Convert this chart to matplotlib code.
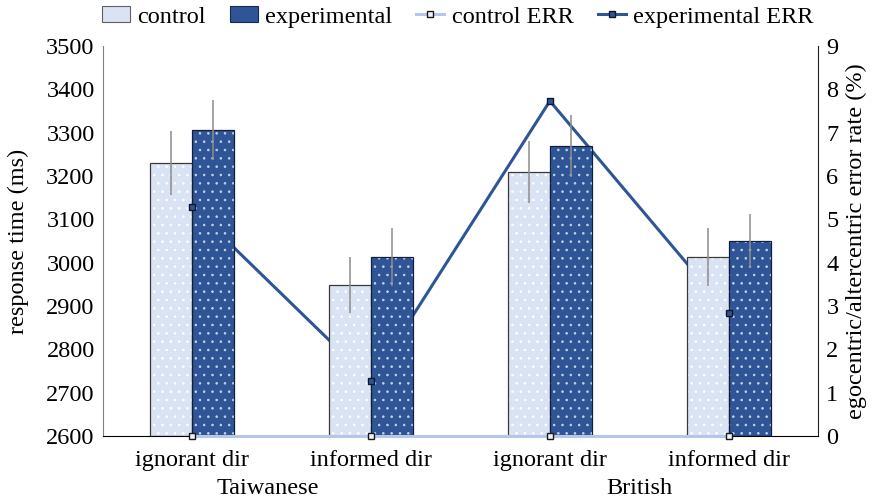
import matplotlib
matplotlib.use("Agg")
import matplotlib.pyplot as plt
from matplotlib.patches import Patch
from matplotlib.lines import Line2D
import numpy as np

plt.rcParams['font.family'] = ['Liberation Serif', 'DejaVu Serif']
plt.rcParams['hatch.linewidth'] = 0.6

# data
categories = ['ignorant dir', 'informed dir', 'ignorant dir', 'informed dir']
groups = ['Taiwanese', 'British']
control_rt = [3230, 2948, 3209, 3013]
control_sd = [74, 65, 72, 67]
exp_rt = [3306, 3013, 3269, 3050]
exp_sd = [69, 67, 72, 62]
control_err = [0, 0, 0, 0]
exp_err = [5.28, 1.27, 7.73, 2.84]

c_light = '#DAE3F3'
c_dark = '#2F5597'
c_line_light = '#B4C7E7'
fs = 17.5

fig = plt.figure(figsize=(8.73, 4.98), dpi=100)
ax = fig.add_axes([103 / 873, 62 / 498, 715 / 873, 390 / 498])
ax2 = ax.twinx()

x = np.arange(len(categories))
w = 0.235
base = 2600

# bars: fill, dot hatch, then outline on top
for xs, vals, fc, dots, ec in [(x - w / 2, control_rt, c_light, 'white', '#3a3a3a'),
                               (x + w / 2, exp_rt, c_dark, '#c8d4ea', '#10203a')]:
    h = np.array(vals) - base
    ax.bar(xs, h, w, bottom=base, color=fc, linewidth=0, zorder=2)
    ax.bar(xs, h, w, bottom=base, color='none', edgecolor=dots, hatch='..',
           linewidth=0, zorder=2.1)
    ax.bar(xs, h, w, bottom=base, color='none', edgecolor=ec, linewidth=0.9,
           zorder=2.2)

ax.errorbar(x - w / 2, control_rt, yerr=control_sd, fmt='none', ecolor='#8c8c8c',
            elinewidth=1.1, capsize=0, zorder=3)
ax.errorbar(x + w / 2, exp_rt, yerr=exp_sd, fmt='none', ecolor='#8c8c8c',
            elinewidth=1.1, capsize=0, zorder=3)

# error rates (secondary axis scale)
ax2.set_ylim(0, 9)
ax2.plot(x, exp_err, color=c_dark, lw=2.2, zorder=1)
ax.plot(x, control_err, transform=ax2.transData, color=c_line_light, lw=2.2,
        solid_capstyle='butt', clip_on=False, zorder=4)
ax.plot(x, control_err, transform=ax2.transData, ls='none', marker='s', ms=5,
        mfc='#eef2f9', mec='#1a1a1a', mew=1, clip_on=False, zorder=5)
ax.plot(x, exp_err, transform=ax2.transData, ls='none', marker='s', ms=5,
        mfc=c_dark, mec='#101828', mew=1, clip_on=False, zorder=5)

ax.set_xlim(-0.5, len(categories) - 0.5)
ax.set_ylim(2600, 3500)
ax.set_yticks(np.arange(2600, 3501, 100))
ax.set_xticks(x)
ax.set_xticklabels(categories)
ax.tick_params(axis='both', length=0, labelsize=fs)
ax.tick_params(axis='x', pad=10)
ax.tick_params(axis='y', pad=6)
ax.set_ylabel('response time (ms)', fontsize=fs, labelpad=12)
ax.spines['top'].set_visible(False)
ax.spines['right'].set_visible(False)
ax.spines['left'].set_color('#808080')
ax.spines['bottom'].set_color('black')

for gx, g in zip([0.42, 2.5], groups):
    ax.text(gx, -0.135, g, transform=ax.get_xaxis_transform(), ha='center',
            va='center', fontsize=fs)

ax2.set_yticks(range(10))
ax2.tick_params(axis='y', length=0, labelsize=fs, pad=6)
ax2.set_ylabel('egocentric/altercentric error rate (%)', fontsize=fs, labelpad=5)
ax2.spines['top'].set_visible(False)
ax2.spines['left'].set_visible(False)
ax2.spines['bottom'].set_visible(False)
ax2.spines['right'].set_color('#202020')

ax.set_zorder(ax2.get_zorder() + 1)
ax.patch.set_visible(False)

# legend
handles = [
    Patch(facecolor=c_light, edgecolor='#606060', lw=0.8),
    Patch(facecolor=c_dark, edgecolor='#1a2a4a', lw=0.8),
    Line2D([], [], color=c_line_light, lw=2.2, marker='s', ms=5,
           mfc='#eef2f9', mec='#1a1a1a'),
    Line2D([], [], color=c_dark, lw=2.2, marker='s', ms=5,
           mfc=c_dark, mec='#101828'),
]
labels = ['control', 'experimental', 'control ERR', 'experimental ERR']
fig.legend(handles, labels, loc='center', bbox_to_anchor=(0.524, 1 - 17 / 498),
           ncol=4, frameon=False, fontsize=fs, handlelength=1.15,
           handleheight=0.6, handletextpad=0.3, columnspacing=1.0)

fig.savefig('out.png', dpi=100)
